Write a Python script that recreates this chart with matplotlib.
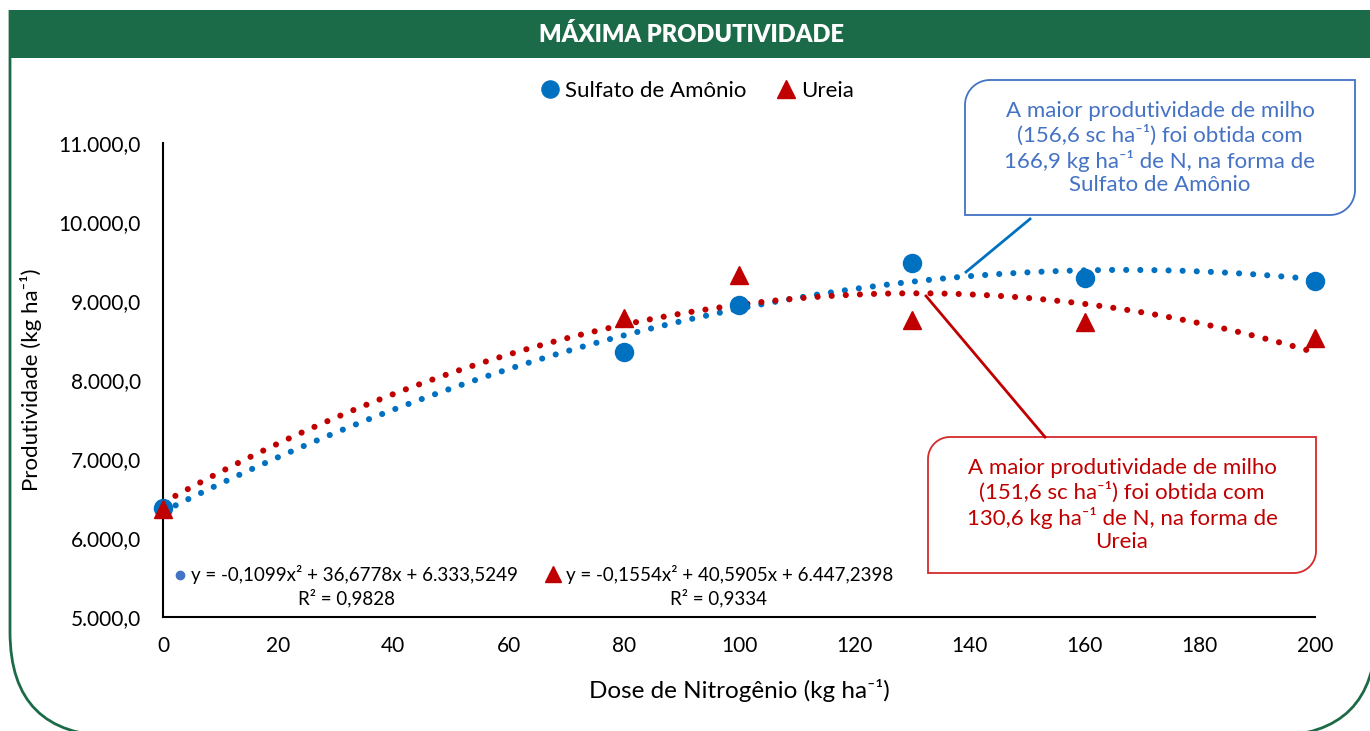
import numpy as np
import matplotlib.pyplot as plt
from matplotlib.patches import FancyBboxPatch, Rectangle, Polygon

plt.rcParams['font.family'] = ['Lato', 'DejaVu Sans']

# doses and yields
doses = [0, 80, 100, 130, 160, 200]
sulfato = [6375, 8350, 8945, 9480, 9290, 9250]
ureia = [6370, 8785, 9330, 8760, 8735, 8530]

# trendline coefficients (a, b, c) from the labels on the chart
coef_sulfato = [-0.1099, 36.6778, 6333.5249]
coef_ureia = [-0.1554, 40.5905, 6447.2398]
r2_sulfato = 0.9828
r2_ureia = 0.9334

yticks = [5000, 6000, 7000, 8000, 9000, 10000, 11000]
xticks = [0, 20, 40, 60, 80, 100, 120, 140, 160, 180, 200]

BLUE = '#0070C0'
RED = '#C00000'
GREEN = '#1C6B48'
W, H = 1370, 731


def br(v, dec):
    s = f"{v:,.{dec}f}"
    return s.replace(',', '#').replace('.', ',').replace('#', '.')


def callout(x0, y0, x1, y1, r):
    # box with round top-left and bottom-right corners (pixel coords, y down)
    t = np.linspace(0, np.pi / 2, 20)
    pts = [(x1, y0), (x1, y1 - r)]
    pts += list(zip(x1 - r + r * np.cos(t), y1 - r + r * np.sin(t)))
    pts += [(x0, y1), (x0, y0 + r)]
    pts += list(zip(x0 + r - r * np.cos(t), y0 + r - r * np.sin(t)))
    return pts


fig = plt.figure(figsize=(W / 100, H / 100), dpi=100)

bg = fig.add_axes([0, 0, 1, 1], zorder=0)
bg.set_xlim(0, W)
bg.set_ylim(H, 0)
bg.axis('off')

bg.add_patch(FancyBboxPatch((10, -200), 1366, 936, boxstyle='round,pad=0,rounding_size=104',
                            fc='white', ec=GREEN, lw=2))
bg.add_patch(Rectangle((0, -10), 1380, 20, fc='white', ec='none'))
bg.add_patch(Rectangle((9, 10), 1380, 48, fc=GREEN, ec='none'))
bg.text(692, 35, 'MÁXIMA PRODUTIVIDADE', color='white', fontsize=17, fontweight='heavy',
        ha='center', va='center')

ax = fig.add_axes([163 / W, (H - 617) / H, (1315 - 163) / W, (617 - 143) / H], zorder=1)
ax.patch.set_alpha(0)

xs = np.linspace(0, 200, 200)
for coef, col in [(coef_sulfato, BLUE), (coef_ureia, RED)]:
    ax.plot(xs, np.polyval(coef, xs), color=col, lw=4.4, linestyle=(0, (0.01, 2.3)),
            dash_capstyle='round', zorder=2)

ax.plot(doses, sulfato, 'o', color=BLUE, ms=13, label='Sulfato de Amônio', zorder=3, clip_on=False)
ax.plot(doses, ureia, '^', color=RED, ms=13, label='Ureia', zorder=3, clip_on=False)

ax.set_xlim(0, 200)
ax.set_ylim(5000, 11000)
ax.set_xticks(xticks)
ax.set_yticks(yticks)
ax.set_yticklabels([br(v, 1) for v in yticks])
ax.tick_params(length=0, labelsize=15, pad=16)
ax.tick_params(axis='x', pad=14)
for side in ['top', 'right']:
    ax.spines[side].set_visible(False)
for side in ['left', 'bottom']:
    ax.spines[side].set_linewidth(1.5)
    ax.spines[side].set_clip_on(False)

ax.set_xlabel('Dose de Nitrogênio (kg ha⁻¹)', fontsize=17.5, labelpad=16)
ax.set_ylabel('Produtividade (kg ha⁻¹)', fontsize=16, labelpad=12)

fig.legend(loc='center', bbox_to_anchor=(697 / W, 1 - 91 / H), ncol=2, frameon=False,
           fontsize=16, handlelength=0.9, handletextpad=0.25, columnspacing=1.3, markerscale=0.95)

fg = fig.add_axes([0, 0, 1, 1], zorder=3)
fg.set_xlim(0, W)
fg.set_ylim(H, 0)
fg.axis('off')

# trendline equations
fg.plot(180, 575, 'o', color='#4472C4', ms=6)
fg.text(191, 575, 'y = ' + br(coef_sulfato[0], 4) + 'x² + ' + br(coef_sulfato[1], 4) + 'x + '
        + br(coef_sulfato[2], 4), fontsize=13.5, va='center')
fg.text(347, 598, 'R² = ' + br(r2_sulfato, 4), fontsize=13.5, ha='center', va='center')
fg.plot(553, 574, '^', color=RED, ms=11)
fg.text(566, 575, 'y = ' + br(coef_ureia[0], 4) + 'x² + ' + br(coef_ureia[1], 4) + 'x + '
        + br(coef_ureia[2], 4), fontsize=13.5, va='center')
fg.text(719, 598, 'R² = ' + br(r2_ureia, 4), fontsize=13.5, ha='center', va='center')

# callouts
fg.add_patch(Polygon(callout(965, 80, 1355, 215, 25), closed=True, fc='white', ec='#4472C4', lw=1.3))
fg.plot([1030, 966], [219, 272], color=BLUE, lw=2)
fg.text(1160, 148, 'A maior produtividade de milho\n(156,6 sc ha⁻¹) foi obtida com\n'
        '166,9 kg ha⁻¹ de N, na forma de\nSulfato de Amônio', color='#4472C4', fontsize=16,
        ha='center', va='center', linespacing=1.22)

fg.add_patch(Polygon(callout(928, 437, 1316, 573, 22), closed=True, fc='white', ec='#D42A2A', lw=1.3))
fg.plot([1045, 926], [437, 296], color=RED, lw=2)
fg.text(1122, 505, 'A maior produtividade de milho\n(151,6 sc ha⁻¹) foi obtida com\n'
        '130,6 kg ha⁻¹ de N, na forma de\nUreia', color=RED, fontsize=16,
        ha='center', va='center', linespacing=1.22)

fig.savefig('out.png', dpi=100)
